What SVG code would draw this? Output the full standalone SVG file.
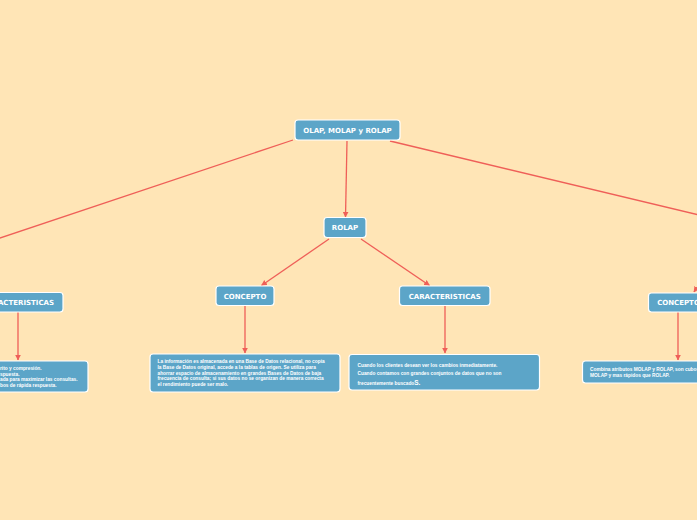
<svg xmlns="http://www.w3.org/2000/svg" width="697" height="520" viewBox="0 0 697 520">
<defs>
<style>
.bg{fill:#ffe5b6}
.box{fill:#5ca5c8;stroke:#ffffff;stroke-width:1.2}
.lbl{font-family:"DejaVu Sans",Verdana,sans-serif;font-weight:bold;font-size:7px;fill:#ffffff;text-anchor:middle}
.txt{font-family:"Liberation Sans",Arial,sans-serif;font-weight:bold;font-size:4.8px;fill:#ffffff}
.con{stroke:#ef5f58;stroke-width:1.3;fill:none}
</style>
<marker id="ah" viewBox="0 0 10 10" refX="9" refY="5" markerWidth="6" markerHeight="6" markerUnits="userSpaceOnUse" orient="auto">
<path d="M0,0 L10,5 L0,10 z" fill="#ef5f58"/>
</marker>
</defs>
<rect class="bg" x="0" y="0" width="697" height="520"/>
<g id="connectors">
<line class="con" x1="293" y1="140" x2="-30" y2="248"/>
<line class="con" x1="347" y1="141" x2="345.5" y2="217" marker-end="url(#ah)"/>
<line class="con" x1="390" y1="141" x2="720" y2="220"/>
<line class="con" x1="329" y1="239" x2="261.5" y2="285.5" marker-end="url(#ah)"/>
<line class="con" x1="361" y1="239" x2="429.5" y2="285.5" marker-end="url(#ah)"/>
<line class="con" x1="245" y1="306" x2="245" y2="353" marker-end="url(#ah)"/>
<line class="con" x1="445" y1="306" x2="445" y2="353" marker-end="url(#ah)"/>
<line class="con" x1="18" y1="312" x2="18" y2="360" marker-end="url(#ah)"/>
<line class="con" x1="678" y1="312" x2="678" y2="360" marker-end="url(#ah)"/>
<line class="con" x1="716" y1="258" x2="694" y2="292" marker-end="url(#ah)"/>
</g>
<g id="root">
<rect class="box" x="295" y="120" width="105" height="20" rx="3"/>
<text class="lbl" x="347.5" y="132.5">OLAP, MOLAP y ROLAP</text>
</g>
<g id="rolap">
<rect class="box" x="324" y="217.5" width="42" height="20" rx="3"/>
<text class="lbl" x="345" y="230">ROLAP</text>
</g>
<g id="rolap-concepto">
<rect class="box" x="216" y="286" width="58" height="19.5" rx="3"/>
<text class="lbl" x="245" y="298.5">CONCEPTO</text>
</g>
<g id="rolap-caracteristicas">
<rect class="box" x="399.5" y="286" width="90.5" height="19.5" rx="3"/>
<text class="lbl" x="444.7" y="298.5">CARACTERISTICAS</text>
</g>
<g id="molap-caracteristicas">
<rect class="box" x="-27" y="292.5" width="90" height="19.5" rx="3"/>
<text class="lbl" x="18" y="305">CARACTERISTICAS</text>
</g>
<g id="holap-concepto">
<rect class="box" x="648.5" y="293" width="60" height="19" rx="3"/>
<text class="lbl" x="678.5" y="305.3">CONCEPTO</text>
</g>
<g id="molap-caract-text">
<rect class="box" x="-40" y="361" width="128" height="31" rx="3"/>
<text class="txt" x="0" y="370">rito y compresión.</text>
<text class="txt" x="0" y="375.5">spuesta.</text>
<text class="txt" x="0" y="381">ada para maximizar las consultas.</text>
<text class="txt" x="0" y="386.5">bos de rápida respuesta.</text>
</g>
<g id="rolap-concepto-text">
<rect class="box" x="150" y="354" width="190" height="38" rx="3"/>
<text class="txt" x="157.5" y="363.3">La información es almacenada en una Base de Datos relacional, no copia</text>
<text class="txt" x="157.5" y="369">la Base de Datos original, accede a la tablas de origen. Se utiliza para</text>
<text class="txt" x="157.5" y="374.7">ahorrar espacio de almacenamiento en grandes Bases de Datos de baja</text>
<text class="txt" x="157.5" y="380.4">frecuencia de consulta; si sus datos no se organizan de manera correcta</text>
<text class="txt" x="157.5" y="386.1">el rendimiento puede ser malo.</text>
</g>
<g id="rolap-caract-text">
<rect class="box" x="349" y="354.5" width="190.5" height="35.5" rx="3"/>
<text class="txt" x="357.5" y="367">Cuando los clientes desean ver los cambios inmediatamente.</text>
<text class="txt" x="357.5" y="375">Cuando contamos con grandes conjuntos de datos que no son</text>
<text class="txt" x="357.5" y="384.5">frecuentemente buscado<tspan style="font-size:6.5px">S.</tspan></text>
</g>
<g id="holap-concepto-text">
<rect class="box" x="582.5" y="361" width="130" height="22" rx="3"/>
<text class="txt" x="590" y="371">Combina atributos MOLAP y ROLAP, son cubos</text>
<text class="txt" x="590" y="377">MOLAP y mas rápidos que ROLAP.</text>
</g>
</svg>
